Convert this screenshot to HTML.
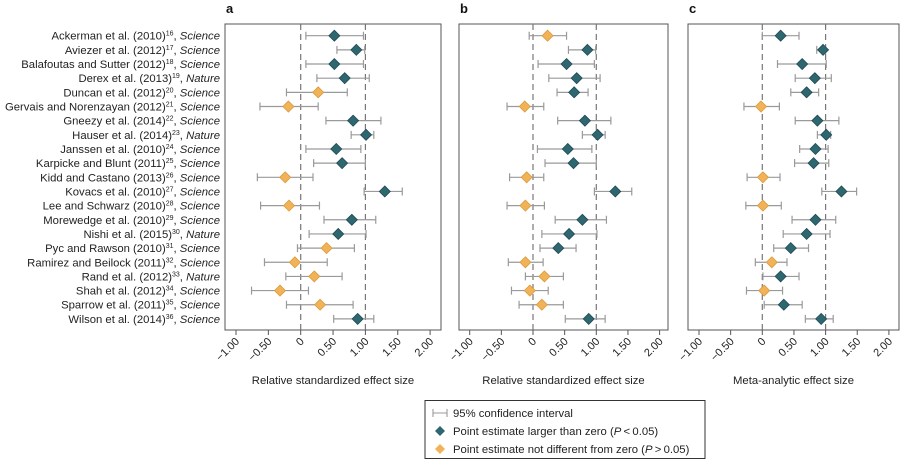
<!DOCTYPE html>
<html><head><meta charset="utf-8"><style>
body{margin:0;background:#fff;}
svg{display:block;font-family:"Liberation Sans",Arial,sans-serif;}
</style></head><body>
<svg id="chart" width="900" height="460"></svg>
<script>
const studies=["Ackerman et al. (2010)|16|Science","Aviezer et al. (2012)|17|Science","Balafoutas and Sutter (2012)|18|Science","Derex et al. (2013)|19|Nature","Duncan et al. (2012)|20|Science","Gervais and Norenzayan (2012)|21|Science","Gneezy et al. (2014)|22|Science","Hauser et al. (2014)|23|Nature","Janssen et al. (2010)|24|Science","Karpicke and Blunt (2011)|25|Science","Kidd and Castano (2013)|26|Science","Kovacs et al. (2010)|27|Science","Lee and Schwarz (2010)|28|Science","Morewedge et al. (2010)|29|Science","Nishi et al. (2015)|30|Nature","Pyc and Rawson (2010)|31|Science","Ramirez and Beilock (2011)|32|Science","Rand et al. (2012)|33|Nature","Shah et al. (2012)|34|Science","Sparrow et al. (2011)|35|Science","Wilson et al. (2014)|36|Science"];
const aPt=[0.52,0.86,0.52,0.68,0.27,-0.19,0.81,1.01,0.55,0.64,-0.24,1.30,-0.18,0.79,0.58,0.40,-0.09,0.21,-0.32,0.30,0.88];
const aLo=[0.08,0.56,0.08,0.25,-0.22,-0.63,0.39,0.78,0.08,0.20,-0.67,0.98,-0.62,0.36,0.13,-0.05,-0.56,-0.23,-0.76,-0.22,0.51];
const aHi=[0.97,0.99,0.97,1.06,0.72,0.27,1.24,1.13,0.93,1.00,0.19,1.57,0.29,1.16,1.01,0.83,0.41,0.64,0.12,0.81,1.13];
const aSig=[1,1,1,1,0,0,1,1,1,1,0,1,0,1,1,0,0,0,0,0,1];
const bPt=[0.23,0.86,0.53,0.69,0.65,-0.13,0.82,1.02,0.55,0.64,-0.10,1.30,-0.12,0.78,0.57,0.40,-0.12,0.18,-0.05,0.14,0.88];
const bLo=[-0.06,0.56,0.08,0.25,0.38,-0.41,0.39,0.78,0.07,0.19,-0.37,0.97,-0.41,0.35,0.14,0.11,-0.39,-0.12,-0.34,-0.22,0.51];
const bHi=[0.53,0.99,0.97,1.06,0.87,0.17,1.23,1.14,0.93,1.00,0.17,1.56,0.18,1.16,1.01,0.68,0.16,0.48,0.24,0.48,1.14];
const bSig=[0,1,1,1,1,0,1,1,1,1,0,1,0,1,1,1,0,0,0,0,1];
const cPt=[0.29,0.96,0.63,0.83,0.70,-0.02,0.87,1.01,0.84,0.81,0.01,1.25,0.01,0.84,0.70,0.45,0.15,0.29,0.03,0.34,0.93];
const cLo=[0.00,0.86,0.24,0.52,0.45,-0.29,0.52,0.87,0.59,0.51,-0.24,0.94,-0.26,0.47,0.33,0.18,-0.11,0.01,-0.25,0.03,0.68];
const cHi=[0.58,1.00,1.01,1.09,0.89,0.27,1.21,1.08,1.04,1.05,0.28,1.49,0.30,1.16,1.07,0.73,0.39,0.58,0.32,0.63,1.12];
const cSig=[1,1,1,1,1,0,1,1,1,1,0,1,0,1,1,1,0,1,0,1,1];
const ticks=[-1,-0.5,0,0.5,1,1.5,2];
const tickLabels=["-1.00","-0.50","0","0.50","1.00","1.50","2.00"];
const NS="http://www.w3.org/2000/svg";
const svg=document.getElementById('chart');
const TEAL="#2f6771",ORANGE="#f2b358",GREY="#9a9a9a";
function mk(tag,attrs,parent){const e=document.createElementNS(NS,tag);for(const k in attrs)e.setAttribute(k,attrs[k]);(parent||svg).appendChild(e);return e;}
const y0=35.7,dy=14.16;
function yPos(i){return y0+i*dy;}
studies.forEach((s,i)=>{
 const [n,sup,j]=s.split('|');
 const t=mk('text',{x:220,y:yPos(i)+4,'text-anchor':'end','font-size':'11.3',fill:'#222'});
 
 
 t.appendChild(document.createTextNode(n));
 const ts=mk('tspan',{'font-size':'7',dy:'-4'},t);ts.textContent=sup;
 const tj=mk('tspan',{dy:'4'},t);tj.textContent=', ';
 const ti=mk('tspan',{'font-style':'italic'},t);ti.textContent=j;
});
const panels=[
 {letter:'a',left:225,right:441,zero:300.7,unit:64.7,pt:aPt,lo:aLo,hi:aHi,sig:aSig,title:'Relative standardized effect size'},
 {letter:'b',left:459,right:668,zero:533,unit:63.3,pt:bPt,lo:bLo,hi:bHi,sig:bSig,title:'Relative standardized effect size'},
 {letter:'c',left:688,right:899,zero:762.3,unit:63.3,pt:cPt,lo:cLo,hi:cHi,sig:cSig,title:'Meta-analytic effect size'}
];
const topY=24,botY=330;
panels.forEach(p=>{
 const g=mk('g',{});
 
 
 const X=v=>p.zero+v*p.unit;
 const L=mk('text',{x:p.left+1,y:13,'font-size':'13','font-weight':'bold',fill:'#111'},g);
 
 
 L.textContent=p.letter;
 const fr=mk('rect',{x:p.left,y:topY,width:p.right-p.left,height:botY-topY,fill:'none',stroke:'#555','stroke-width':1},g);
 
 
 [0,1].forEach(v=>{const r=mk('line',{x1:X(v),x2:X(v),y1:topY,y2:botY,stroke:'#777','stroke-width':1.2,'stroke-dasharray':'6,4'},g);
  
  });
 ticks.forEach((v,k)=>{
  const tl=mk('line',{x1:X(v),x2:X(v),y1:botY,y2:botY+5,stroke:'#555'},g);
  
  
  const tx=mk('text',{'text-anchor':'end','font-size':'11',fill:'#222',transform:`translate(${X(v)+4},${botY+12}) rotate(-45)`},g);
  
  
  tx.textContent=tickLabels[k].replace('-','\u2212');
 });
 const at=mk('text',{x:(p.left+p.right)/2,y:384,'text-anchor':'middle','font-size':'11.3',fill:'#222'},g);
 
 
 at.textContent=p.title;
 p.pt.forEach((v,i)=>{
  const y=yPos(i);
  const ci=mk('path',{d:`M${X(p.lo[i])},${y}H${X(p.hi[i])}M${X(p.lo[i])},${y-4}V${y+4}M${X(p.hi[i])},${y-4}V${y+4}`,stroke:GREY,'stroke-width':1.2,fill:'none'},g);
  
  
  const cx=X(v),r=5.5;
  const d=mk('path',{d:`M${cx},${y-r}L${cx+r},${y}L${cx},${y+r}L${cx-r},${y}Z`,fill:p.sig[i]?TEAL:ORANGE,stroke:p.sig[i]?'#1f4a52':'#d99a3c','stroke-width':0.8},g);
  
  
 });
});
const lg=mk('g',{});


const lb=mk('rect',{x:425,y:400.5,width:280,height:58,fill:'#fff',stroke:'#333','stroke-width':1},lg);


const items=[['ci','95% confidence interval'],['t','Point estimate larger than zero (|P|\u2009<\u20090.05)'],['o','Point estimate not different from zero (|P|\u2009>\u20090.05)']];
items.forEach((it,k)=>{
 const y=413+k*18;
 const e=mk('g',{},lg);
 
 
 if(it[0]==='ci') mk('path',{d:`M433,${y}H447M433,${y-4}V${y+4}M447,${y-4}V${y+4}`,stroke:GREY,'stroke-width':1.1,fill:'none'},e);
 else mk('path',{d:`M440,${y-5}L445,${y}L440,${y+5}L435,${y}Z`,fill:it[0]==='t'?TEAL:ORANGE},e);
 const t=mk('text',{x:453,y:y+4,'font-size':'11.3',fill:'#222'},e);
 const parts=it[1].split('|');
 parts.forEach((s,j)=>{const ts=mk('tspan',j===1?{'font-style':'italic'}:{},t);ts.textContent=s;});
});
</script>
</body></html>
